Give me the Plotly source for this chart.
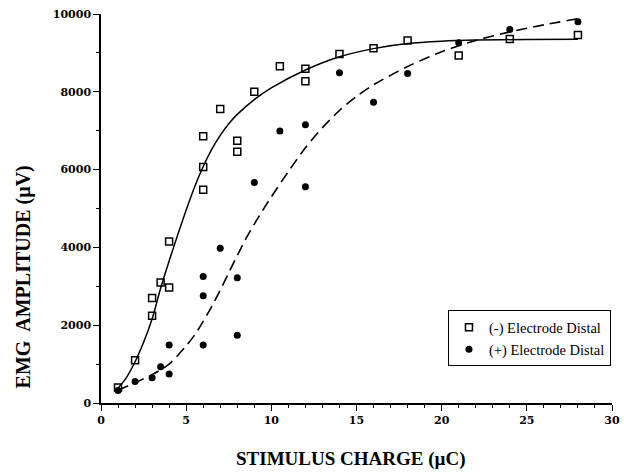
import plotly.graph_objects as go

# Measured data
x_neg = [1, 2, 3, 3, 3.5, 4, 4, 6, 6, 6, 7, 8, 8, 9, 10.5, 12, 12, 14, 16, 18, 21, 24, 28]
y_neg = [400, 1100, 2240, 2700, 3100, 2970, 4150, 6070, 5480, 6860, 7560, 6740, 6460, 8000, 8660, 8590, 8270, 8970, 9120, 9320, 8930, 9360, 9460]

x_pos = [1, 2, 3, 3.5, 4, 4, 6, 6, 6, 7, 8, 8, 9, 10.5, 12, 12, 14, 16, 18, 21, 24, 28]
y_pos = [320, 550, 650, 930, 745, 1490, 1490, 2760, 3250, 3980, 3220, 1740, 5670, 6990, 7150, 5560, 8490, 7730, 8470, 9260, 9600, 9800]

# Fitted curves
x_fit_neg = [1, 1.5, 2, 2.5, 3, 3.5, 4, 4.5, 5, 5.5, 6, 6.5, 7, 7.5, 8, 9, 10, 12, 14, 16, 18, 20, 22, 25, 28]
y_fit_neg = [380, 660, 1060, 1560, 2160, 2950, 3650, 4320, 4960, 5560, 6080, 6520, 6880, 7180, 7420, 7800, 8100, 8560, 8900, 9110, 9240, 9300, 9330, 9345, 9350]

x_fit_pos = [1, 2, 3, 4, 5, 5.5, 6, 6.5, 7, 7.5, 8, 8.5, 9, 9.5, 10, 11, 12, 13, 14, 15, 16, 18, 20, 22, 24, 26, 28]
y_fit_pos = [330, 520, 730, 1000, 1470, 1750, 2100, 2480, 2900, 3350, 3790, 4220, 4600, 4960, 5300, 5950, 6560, 7080, 7520, 7880, 8180, 8650, 9030, 9320, 9540, 9720, 9880]

x_ticks = [0, 5, 10, 15, 20, 25, 30]
y_ticks = [0, 2000, 4000, 6000, 8000, 10000]

SERIF = "Liberation Serif"
TICKF = "DejaVu Serif"

fig = go.Figure()
fig.add_trace(go.Scatter(x=x_fit_neg, y=y_fit_neg, mode="lines",
                         line=dict(color="black", width=1.5, shape="spline", smoothing=0.8),
                         showlegend=False, hoverinfo="skip"))
fig.add_trace(go.Scatter(x=x_fit_pos, y=y_fit_pos, mode="lines",
                         line=dict(color="black", width=1.6, dash="11px,6px", shape="spline", smoothing=0.8),
                         showlegend=False, hoverinfo="skip"))
fig.add_trace(go.Scatter(x=x_neg, y=y_neg, mode="markers", name="(-) Electrode Distal",
                         marker=dict(symbol="square-open", size=7, color="black", line=dict(width=1.5))))
fig.add_trace(go.Scatter(x=x_pos, y=y_pos, mode="markers", name="(+) Electrode Distal",
                         marker=dict(symbol="circle", size=7, color="black")))

fig.update_layout(
    width=624, height=474,
    margin=dict(l=101, r=12, t=14, b=71),
    paper_bgcolor="white", plot_bgcolor="white",
    font=dict(family=SERIF, color="black", size=12),
    showlegend=True,
    legend=dict(x=0.679, y=0.238, xanchor="left", yanchor="top",
                bordercolor="black", borderwidth=1, bgcolor="white",
                font=dict(family=SERIF, size=14.5), tracegroupgap=0,
                itemwidth=30),
    xaxis=dict(range=[0, 30], tickvals=x_ticks, ticktext=[f"<b>{v}</b>" for v in x_ticks],
               automargin=False,
               showgrid=False, zeroline=False, showline=True, linecolor="black", linewidth=1.5,
               ticks="outside", ticklen=6, tickwidth=1.2, tickcolor="black",
               minor=dict(dtick=1, ticks="outside", ticklen=3, tickcolor="black", tickwidth=1),
               tickfont=dict(family=TICKF, size=11)),
    yaxis=dict(range=[0, 10000], tickvals=y_ticks, ticktext=[f"<b>{v}</b>" for v in y_ticks],
               automargin=False,
               showgrid=False, zeroline=False, showline=True, linecolor="black", linewidth=1.5,
               ticks="outside", ticklen=6, tickwidth=1.2, tickcolor="black",
               minor=dict(dtick=1000, ticks="outside", ticklen=3, tickcolor="black", tickwidth=1),
               tickfont=dict(family=TICKF, size=11)),
    annotations=[
        dict(text="<b>STIMULUS CHARGE (µC)</b>", xref="paper", yref="paper", x=0.489, y=-0.144,
             xanchor="center", yanchor="middle", showarrow=False, font=dict(family=SERIF, size=19)),
        dict(text="<b>EMG  AMPLITUDE (µV)</b>", xref="paper", yref="paper", x=-0.151, y=0.325,
             xanchor="center", yanchor="middle", showarrow=False, textangle=-90,
             font=dict(family=SERIF, size=20)),
    ],
)

fig.write_html("out.html")
